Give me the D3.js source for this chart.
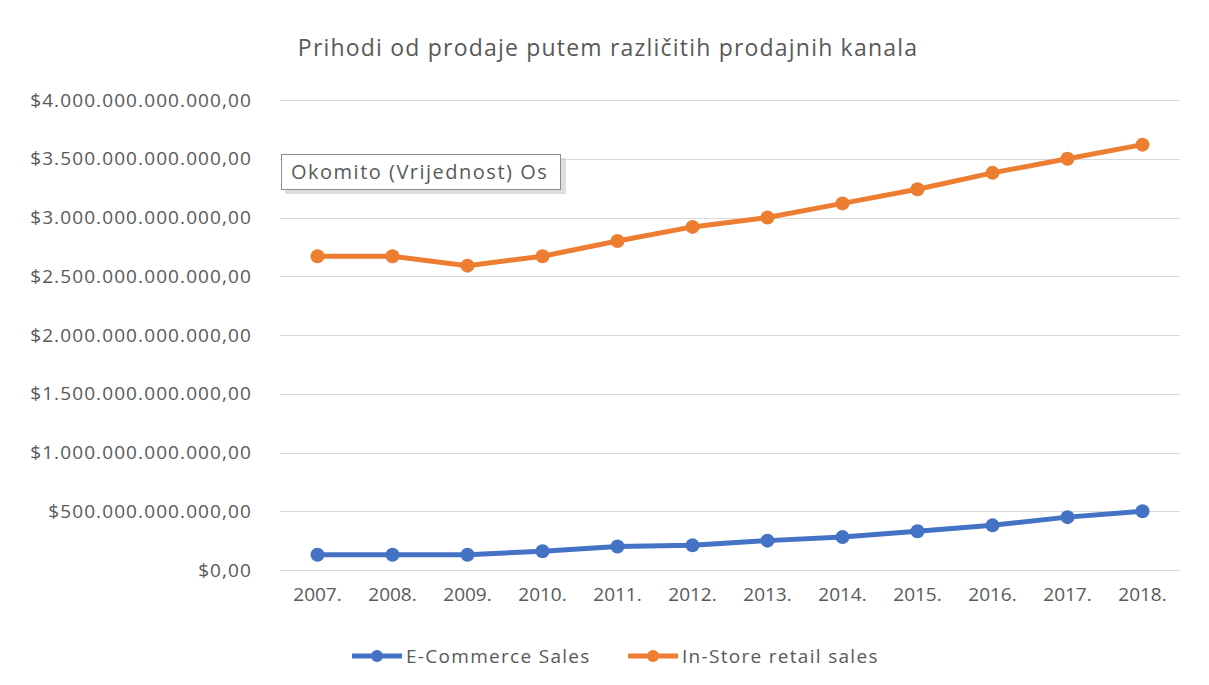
<!DOCTYPE html>
<html>
<head>
<meta charset="utf-8">
<script src="https://cdn.jsdelivr.net/npm/d3@7"></script>
<style>
  body { margin: 0; background: #fff; }
  svg { font-family: "Open Sans", "Liberation Sans", sans-serif; }
</style>
</head>
<body>
<svg></svg>
<script>
var WIDTH = 1209;
var HEIGHT = 685;

var years = ['2007.', '2008.', '2009.', '2010.', '2011.', '2012.', '2013.', '2014.', '2015.', '2016.', '2017.', '2018.'];
var ecommerce = [0.13e12, 0.13e12, 0.13e12, 0.16e12, 0.20e12, 0.21e12, 0.25e12, 0.28e12, 0.33e12, 0.38e12, 0.45e12, 0.50e12];
var instore = [2.67e12, 2.67e12, 2.59e12, 2.67e12, 2.80e12, 2.92e12, 3.00e12, 3.12e12, 3.24e12, 3.38e12, 3.50e12, 3.62e12];
var yTicks = [0, 0.5e12, 1e12, 1.5e12, 2e12, 2.5e12, 3e12, 3.5e12, 4e12];
var seriesNames = ['E-Commerce Sales', 'In-Store retail sales'];
var colors = ['#4472c4', '#ed7d31'];

var svg = d3.select('svg')
  .attr('width', WIDTH)
  .attr('height', HEIGHT);

var plotLeft = 280, plotRight = 1180, plotTop = 100, plotBottom = 570;

var xScale = d3.scaleBand().domain(years).range([plotLeft, plotRight]);
var yScale = d3.scaleLinear().domain([0, 4e12]).range([plotBottom, plotTop]);

var locale = d3.formatLocale({ decimal: ',', thousands: '.', grouping: [3], currency: ['$', ''] });
var fmt = locale.format('$,.2f');

// title
svg.append('text')
  .attr('x', 608).attr('y', 56)
  .attr('text-anchor', 'middle')
  .attr('font-size', 23)
  .attr('letter-spacing', 1.2)
  .attr('fill', '#595959')
  .text('Prihodi od prodaje putem različitih prodajnih kanala');

// gridlines
svg.append('g').selectAll('line')
  .data(yTicks)
  .enter().append('line')
  .attr('x1', plotLeft).attr('x2', plotRight)
  .attr('y1', function(d) { return Math.round(yScale(d)) + 0.5; })
  .attr('y2', function(d) { return Math.round(yScale(d)) + 0.5; })
  .attr('stroke', '#d9d9d9').attr('stroke-width', 1);

// y axis
var yAxis = svg.append('g')
  .attr('transform', 'translate(' + (plotLeft - 28) + ',0)')
  .call(d3.axisLeft(yScale).tickValues(yTicks).tickFormat(fmt).tickSize(0).tickPadding(0));
yAxis.select('.domain').remove();
yAxis.selectAll('text')
  .attr('font-size', 19).attr('fill', '#595959').attr('letter-spacing', 1.1)
  .attr('font-family', '"Open Sans", "Liberation Sans", sans-serif');

// x axis
var xAxis = svg.append('g')
  .attr('transform', 'translate(0,' + plotBottom + ')')
  .call(d3.axisBottom(xScale).tickSize(0).tickPadding(18));
xAxis.select('.domain').remove();
xAxis.selectAll('text')
  .attr('font-size', 19).attr('fill', '#595959')
  .attr('font-family', '"Open Sans", "Liberation Sans", sans-serif');

var line = d3.line()
  .x(function(d, i) { return xScale(years[i]) + xScale.bandwidth() / 2; })
  .y(function(d) { return yScale(d); });

[ecommerce, instore].forEach(function(series, k) {
  svg.append('path')
    .datum(series)
    .attr('d', line)
    .attr('fill', 'none')
    .attr('stroke', colors[k])
    .attr('stroke-width', 5)
    .attr('stroke-linejoin', 'round');
  svg.append('g').selectAll('circle')
    .data(series)
    .enter().append('circle')
    .attr('cx', function(d, i) { return xScale(years[i]) + xScale.bandwidth() / 2; })
    .attr('cy', function(d) { return yScale(d); })
    .attr('r', 7)
    .attr('fill', colors[k]);
});

// tooltip box
var tip = svg.append('g').attr('transform', 'translate(281,154)');
tip.append('rect')
  .attr('x', 4).attr('y', 4).attr('width', 281).attr('height', 36)
  .attr('fill', '#c8c8c8').attr('opacity', 0.6);
tip.append('rect')
  .attr('x', 0.5).attr('y', 0.5).attr('width', 279).attr('height', 35)
  .attr('fill', '#fff').attr('stroke', '#8c8c8c');
tip.append('text')
  .attr('x', 10).attr('y', 25)
  .attr('font-size', 20).attr('letter-spacing', 1.5)
  .attr('fill', '#595959')
  .text('Okomito (Vrijednost) Os');

// legend
var legendX = [352, 628];
seriesNames.forEach(function(name, k) {
  var g = svg.append('g').attr('transform', 'translate(' + legendX[k] + ',656)');
  g.append('line').attr('x1', 0).attr('x2', 50).attr('y1', 0).attr('y2', 0)
    .attr('stroke', colors[k]).attr('stroke-width', 5);
  g.append('circle').attr('cx', 25).attr('cy', 0).attr('r', 6).attr('fill', colors[k]);
  g.append('text').attr('x', 54).attr('y', 7)
    .attr('font-size', 19).attr('letter-spacing', 1.3)
    .attr('fill', '#595959')
    .text(name);
});
</script>
</body>
</html>
